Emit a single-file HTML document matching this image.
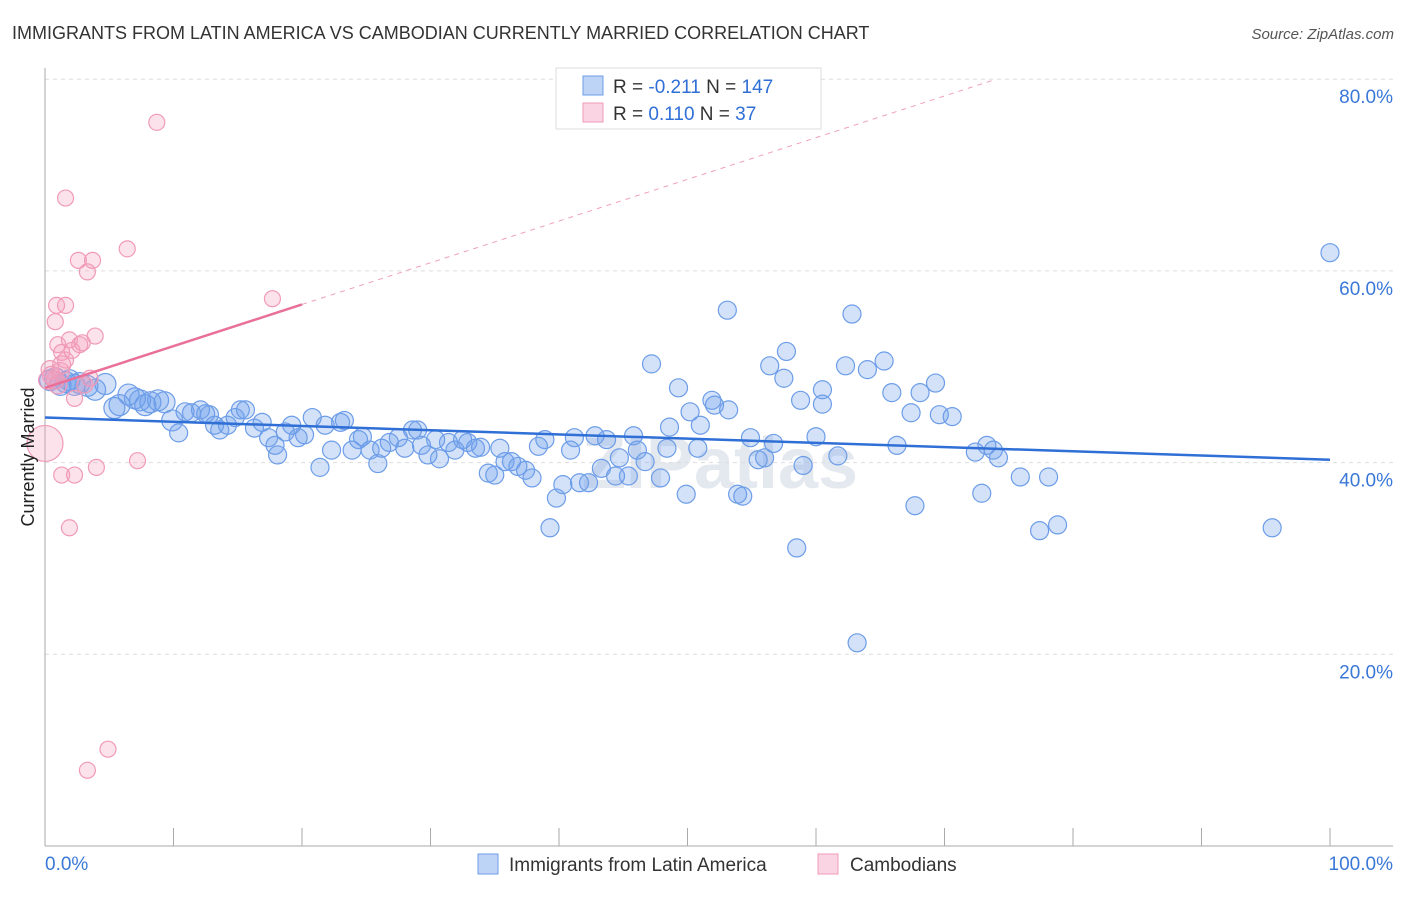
<!DOCTYPE html>
<html><head><meta charset="utf-8"><style>
body{margin:0;background:#fff;font-family:"Liberation Sans",sans-serif;}
svg text{font-family:"Liberation Sans",sans-serif;}
</style></head><body>
<svg id="chart" width="1406" height="892" xmlns="http://www.w3.org/2000/svg">
<text x="12" y="39" font-size="18" fill="#333">IMMIGRANTS FROM LATIN AMERICA VS CAMBODIAN CURRENTLY MARRIED CORRELATION CHART</text>
<text x="1394" y="39" font-size="15" fill="#555" font-style="italic" text-anchor="end">Source: ZipAtlas.com</text>
<text x="720" y="488" font-size="72" fill="#e4e8ef" text-anchor="middle" font-weight="bold">ZIPatlas</text>
<g id="grid"></g>
<g id="axes"></g>
<g id="pts"></g>
<g id="trends"></g>
<text transform="translate(34,457) rotate(-90)" font-size="18" fill="#222" text-anchor="middle">Currently Married</text>
<g>
<rect x="556" y="68" width="265" height="61" fill="#fff" stroke="#ddd"/>
<rect x="583" y="76" width="20" height="19" fill="rgba(110,160,235,0.45)" stroke="#6d9de8"/>
<rect x="583" y="103" width="20" height="19" fill="rgba(245,160,190,0.45)" stroke="#f09ab8"/>
<text x="613" y="93" font-size="19" fill="#333">R = <tspan fill="#2f6fd6">-0.211</tspan>   N = <tspan fill="#2f6fd6">147</tspan></text>
<text x="613" y="120" font-size="19" fill="#333">R =  <tspan fill="#2f6fd6"> 0.110</tspan>   N =  <tspan fill="#2f6fd6"> 37</tspan></text>
</g>
<g>
<rect x="478" y="854" width="20" height="20" fill="rgba(110,160,235,0.45)" stroke="#6d9de8"/>
<text x="509" y="871" font-size="19" fill="#333">Immigrants from Latin America</text>
<rect x="818" y="854" width="20" height="20" fill="rgba(245,160,190,0.45)" stroke="#f09ab8"/>
<text x="850" y="871" font-size="19" fill="#333">Cambodians</text>
</g>
</svg>
<script>
const blueX=[0.4,0.8,1.2,1.6,1.9,2.3,2.7,3.3,3.9,4.7,5.4,5.8,6.5,7.0,7.4,7.8,8.2,8.8,9.3,9.9,10.4,10.9,11.4,12.1,12.5,12.8,13.2,13.6,14.2,14.8,15.2,15.6,16.3,16.9,17.4,17.9,18.1,18.7,19.2,19.7,20.2,20.8,21.4,21.8,22.3,23.0,23.3,23.9,24.4,24.7,25.3,25.9,26.2,26.8,27.5,28.0,28.6,29.0,29.3,29.8,30.4,30.7,31.4,31.9,32.5,32.9,33.5,33.9,34.5,35.0,35.4,35.8,36.3,36.8,37.4,37.9,38.4,38.9,39.3,39.8,40.3,40.9,41.2,41.6,42.3,42.8,43.3,43.7,44.4,44.7,45.4,45.8,46.1,46.7,47.2,47.9,48.4,48.6,49.3,49.9,50.2,51.0,50.8,51.9,52.1,53.2,53.1,53.9,54.3,54.9,55.5,56.0,56.4,56.7,57.5,57.7,58.5,58.8,59.0,60.0,60.5,60.5,61.7,62.3,62.8,63.2,64.0,65.3,65.9,66.3,67.4,67.7,68.1,69.3,69.6,70.6,72.4,72.9,73.3,73.8,74.2,75.9,77.4,78.1,78.8,95.5,100];
const blueY=[48.6,48.8,48.1,48.4,48.6,48.1,48.3,48.0,47.6,48.2,45.7,46.0,47.1,46.7,46.5,46.0,46.3,46.5,46.3,44.4,43.1,45.3,45.2,45.5,45.1,45.0,43.9,43.4,43.9,44.7,45.5,45.5,43.6,44.2,42.6,41.8,40.8,43.2,43.9,42.6,42.9,44.7,39.5,43.9,41.3,44.2,44.4,41.3,42.4,42.7,41.3,39.9,41.5,42.1,42.6,41.5,43.4,43.4,41.8,40.8,42.4,40.4,42.1,41.3,42.4,42.1,41.5,41.6,38.9,38.7,41.5,40.1,40.1,39.6,39.2,38.4,41.7,42.4,33.2,36.3,37.7,41.3,42.6,37.9,37.9,42.8,39.4,42.4,38.6,40.5,38.6,42.8,41.3,40.1,50.3,38.4,41.5,43.7,47.8,36.7,45.3,43.9,41.5,46.5,46.0,45.5,55.9,36.7,36.5,42.6,40.3,40.5,50.1,42.0,48.8,51.6,31.1,46.5,39.7,42.7,47.6,46.1,40.7,50.1,55.5,21.2,49.7,50.6,47.3,41.8,45.2,35.5,47.3,48.3,45.0,44.8,41.1,36.8,41.8,41.3,40.5,38.5,32.9,38.5,33.5,33.2,61.9];
const pinkX=[0.4,0.5,0.8,1.0,1.2,1.3,0.8,0.9,1.6,1.0,1.3,1.6,1.9,2.1,2.3,2.7,3.1,3.5,1.6,2.6,3.7,3.3,6.4,8.7,17.7,1.3,2.3,1.9,4.0,7.2,4.9,3.3,3.9,2.9,0.2,0];
const pinkY=[49.7,49.1,48.6,48.1,49.5,50.2,54.7,56.4,56.4,52.3,51.5,50.7,52.8,51.7,46.7,52.3,48.1,48.8,67.6,61.1,61.1,59.9,62.3,75.5,57.1,38.7,38.7,33.2,39.5,40.2,10.1,7.9,53.2,52.5,48.6,42.0];
const pinkR=[9,9,9,9,9,9,8,8,8,8,8,8,8,8,8,8,8,8,8,8,8,8,8,8,8,8,8,8,8,8,8,8,8,8,9,18];
const blueTrend=[44.7,40.3];
const pinkTrend=[47.8,56.5];
const yTicks=[20,40,60,80];
const xTickLabels=["0.0%","100.0%"];
const NS="http://www.w3.org/2000/svg";
const X0=45,X1=1330,Y0=846,PX=(1330-45)/100,PY=9.585;
const sx=v=>X0+v*PX, sy=v=>Y0-v*PY;
function mk(tag,attrs,parent){const e=document.createElementNS(NS,tag);for(const k in attrs)e.setAttribute(k,attrs[k]);parent.appendChild(e);return e;}
const grid=document.getElementById('grid'),axes=document.getElementById('axes'),pts=document.getElementById('pts'),tr=document.getElementById('trends');
yTicks.forEach(t=>{
 const l=mk('line',{x1:X0,x2:1393,y1:sy(t),y2:sy(t),stroke:'#ddd','stroke-dasharray':'4,4'},grid);
 
 
 const tx=mk('text',{x:1393,y:sy(t)+24,'font-size':19,fill:'#3a78d8','text-anchor':'end'},axes);
 tx.textContent=t.toFixed(1)+'%';
 
 
});
mk('line',{x1:X0,x2:X0,y1:68,y2:Y0,stroke:'#aaa'},axes);
mk('line',{x1:X0,x2:1393,y1:Y0,y2:Y0,stroke:'#aaa'},axes);
for(let i=0;i<=10;i++){const t=mk('line',{x1:sx(i*10),x2:sx(i*10),y1:Y0,y2:Y0-18,stroke:'#aaa'},axes);
 
 }
const xl0=mk('text',{x:45,y:870,'font-size':19,fill:'#3a78d8'},axes);xl0.textContent=xTickLabels[0];


const xl1=mk('text',{x:1393,y:870,'font-size':19,fill:'#3a78d8','text-anchor':'end'},axes);xl1.textContent=xTickLabels[1];


blueX.forEach((x,i)=>{const c=mk('circle',{cx:sx(x),cy:sy(blueY[i]),r:x<10?10.5:9,fill:'rgba(110,160,235,0.3)',stroke:'#6d9de8','stroke-width':1.2},pts);
 
 });
pinkX.forEach((x,i)=>{const c=mk('circle',{cx:sx(x),cy:sy(pinkY[i]),r:pinkR[i],fill:'rgba(245,160,190,0.3)',stroke:'#f09ab8','stroke-width':1.2},pts);
 
 });
const bl=mk('line',{x1:sx(0),y1:sy(blueTrend[0]),x2:sx(100),y2:sy(blueTrend[1]),stroke:'#2f6fd6','stroke-width':2.5},tr);


const slope=(pinkTrend[1]-pinkTrend[0])/20;
const xEnd=(80-pinkTrend[0])/slope;
const pd=mk('line',{x1:sx(20),y1:sy(pinkTrend[1]),x2:sx(xEnd),y2:sy(80),stroke:'#f0a0bc','stroke-width':1,'stroke-dasharray':'5,5'},tr);


const pl=mk('line',{x1:sx(0),y1:sy(pinkTrend[0]),x2:sx(20),y2:sy(pinkTrend[1]),stroke:'#e8709a','stroke-width':2.5},tr);


</script>
</body></html>
